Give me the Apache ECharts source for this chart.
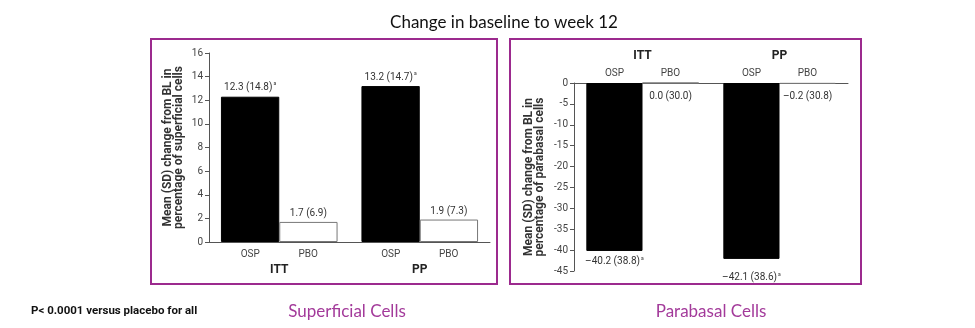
<!DOCTYPE html>
<html><head><meta charset="utf-8">
<script src="https://cdn.jsdelivr.net/npm/echarts@6/dist/echarts.min.js"></script>
<style>html,body{margin:0;padding:0;background:#fff}#c{width:975px;height:328px}</style>
</head><body><div id="c"></div>
<script>
// ---- data ----
var groups = ["ITT", "PP"];
var arms = ["OSP", "PBO"];
var superficialOSP = [12.3, 13.2];
var superficialOSP_SD = [14.8, 14.7];
var superficialPBO = [1.7, 1.9];
var superficialPBO_SD = [6.9, 7.3];
var parabasalOSP = [-40.2, -42.1];
var parabasalOSP_SD = [38.8, 38.6];
var parabasalPBO = [0.0, -0.2];
var parabasalPBO_SD = [30.0, 30.8];
var supTicks = {min: 0, max: 16, interval: 2};
var paraTicks = {min: -45, max: 0, interval: 5};
var titleText = "Change in baseline to week 12";
var footText = "P< 0.0001 versus placebo for all";
var panelNames = ["Superficial Cells", "Parabasal Cells"];
var yNames = ["Mean (SD) change from BL in\npercentage of superficial cells",
              "Mean (SD) change from BL in\npercentage of parabasal cells"];

function fmt(v, sd, sig) {
  var s = (v < 0 ? "\u2013" + Math.abs(v).toFixed(1) : v.toFixed(1)) + " (" + sd.toFixed(1) + ")";
  return sig ? "{v|" + s + "}{s|a}" : "{v|" + s + "}";
}
var FONT = "Roboto";
var PURPLE = "#9c2a8e";
var labelRich = {
  v: {fontFamily: FONT, fontSize: 10, color: "#333"},
  s: {fontFamily: FONT, fontSize: 5, color: "#333", padding: [0, 0, 7, 1]}
};

var chart = echarts.init(document.getElementById('c'), null, {renderer: 'canvas'});

function xAxisRich(w, top) {
  return {
    a: {fontFamily: FONT, fontSize: 10, color: "#444", width: w, align: "center", lineHeight: 14},
    b: {fontFamily: FONT, fontSize: 10, color: "#444", width: w, align: "center", lineHeight: 14},
    c: {fontFamily: FONT, fontSize: 12, fontWeight: "bold", color: "#222", width: 2 * w, align: "center", lineHeight: top ? 20 : 18}
  };
}

var axisLineStyle = {color: "#555", width: 1};

var option = {
  animation: false,
  backgroundColor: "#fff",
  grid: [
    {left: 209, right: 485, top: 53, bottom: 86},
    {left: 574, right: 127, top: 83, bottom: 57}
  ],
  xAxis: [
    {
      type: "category", gridIndex: 0, data: groups, position: "bottom",
      axisLine: {lineStyle: axisLineStyle}, axisTick: {show: false},
      axisLabel: {
        margin: 5, interval: 0,
        formatter: function (g) { return "{a|" + arms[0] + "}{b|" + arms[1] + "}\n{c|" + g + "}"; },
        rich: xAxisRich(58, false)
      }
    },
    {
      type: "category", gridIndex: 1, data: groups, position: "top",
      axisLine: {lineStyle: axisLineStyle}, axisTick: {show: false},
      axisLabel: {
        margin: 3, interval: 0,
        formatter: function (g) { return "{c|" + g + "}\n{a|" + arms[0] + "}{b|" + arms[1] + "}"; },
        rich: xAxisRich(56, true)
      }
    }
  ],
  yAxis: [
    {
      type: "value", gridIndex: 0, min: supTicks.min, max: supTicks.max, interval: supTicks.interval,
      axisLine: {show: true, lineStyle: axisLineStyle},
      axisTick: {show: true, length: 4, lineStyle: axisLineStyle},
      splitLine: {show: false},
      axisLabel: {fontFamily: FONT, fontSize: 10, color: "#444", margin: 6},
      name: yNames[0], nameLocation: "middle", nameGap: 25, nameRotate: 90,
      nameTextStyle: {fontFamily: FONT, fontSize: 12, fontWeight: "bold", color: "#333", lineHeight: 11}
    },
    {
      type: "value", gridIndex: 1, min: paraTicks.min, max: paraTicks.max, interval: paraTicks.interval,
      axisLine: {show: true, lineStyle: axisLineStyle},
      axisTick: {show: true, length: 4, lineStyle: axisLineStyle},
      splitLine: {show: false},
      axisLabel: {fontFamily: FONT, fontSize: 10, color: "#444", margin: 6},
      name: yNames[1], nameLocation: "middle", nameGap: 29, nameRotate: 90,
      nameTextStyle: {fontFamily: FONT, fontSize: 12, fontWeight: "bold", color: "#333", lineHeight: 11}
    }
  ],
  series: [
    {
      name: arms[0], type: "bar", xAxisIndex: 0, yAxisIndex: 0,
      data: superficialOSP, barGap: "0%", barCategoryGap: "17%",
      itemStyle: {color: "#000", borderColor: "#000", borderWidth: 1},
      label: {show: true, position: "top", distance: 3, rich: labelRich,
        formatter: function (p) { return fmt(p.value, superficialOSP_SD[p.dataIndex], true); }}
    },
    {
      name: arms[1], type: "bar", xAxisIndex: 0, yAxisIndex: 0,
      data: superficialPBO, barGap: "0%", barCategoryGap: "17%",
      itemStyle: {color: "#fff", borderColor: "#777", borderWidth: 1},
      label: {show: true, position: "top", distance: 3, rich: labelRich,
        formatter: function (p) { return fmt(p.value, superficialPBO_SD[p.dataIndex], false); }}
    },
    {
      name: arms[0], type: "bar", xAxisIndex: 1, yAxisIndex: 1,
      data: parabasalOSP.map(function (v, i) {
        return {value: v, label: {distance: [5, 13][i]}};
      }),
      barGap: "0%", barCategoryGap: "18%",
      itemStyle: {color: "#000", borderColor: "#000", borderWidth: 1},
      label: {show: true, position: "bottom", rich: labelRich,
        formatter: function (p) { return fmt(p.value, parabasalOSP_SD[p.dataIndex], true); }}
    },
    {
      name: arms[1], type: "bar", xAxisIndex: 1, yAxisIndex: 1,
      data: parabasalPBO, barGap: "0%", barCategoryGap: "18%",
      itemStyle: {color: "#fff", borderColor: "#777", borderWidth: 1},
      label: {show: true, position: "bottom", distance: 8, rich: labelRich,
        formatter: function (p) { return fmt(p.value, parabasalPBO_SD[p.dataIndex], false); }}
    }
  ],
  graphic: [
    {type: "rect", shape: {x: 151, y: 39, width: 346, height: 245}, style: {fill: null, stroke: PURPLE, lineWidth: 2}, silent: true},
    {type: "rect", shape: {x: 510, y: 39, width: 351, height: 245}, style: {fill: null, stroke: PURPLE, lineWidth: 2}, silent: true},
    {type: "text", x: 504, y: 23, style: {text: titleText, fontFamily: "Lato", fontSize: 17, fill: "#111", align: "center", verticalAlign: "middle"}},
    {type: "text", x: 31, y: 311, style: {text: footText, fontFamily: FONT, fontSize: 11.5, fontWeight: "bold", fill: "#111", align: "left", verticalAlign: "middle"}},
    {type: "text", x: 347, y: 312, style: {text: panelNames[0], fontFamily: "Lato", fontSize: 17, fill: "#a33a9a", align: "center", verticalAlign: "middle"}},
    {type: "text", x: 711, y: 312, style: {text: panelNames[1], fontFamily: "Lato", fontSize: 17, fill: "#a33a9a", align: "center", verticalAlign: "middle"}}
  ]
};
chart.setOption(option);
</script>
</body></html>
